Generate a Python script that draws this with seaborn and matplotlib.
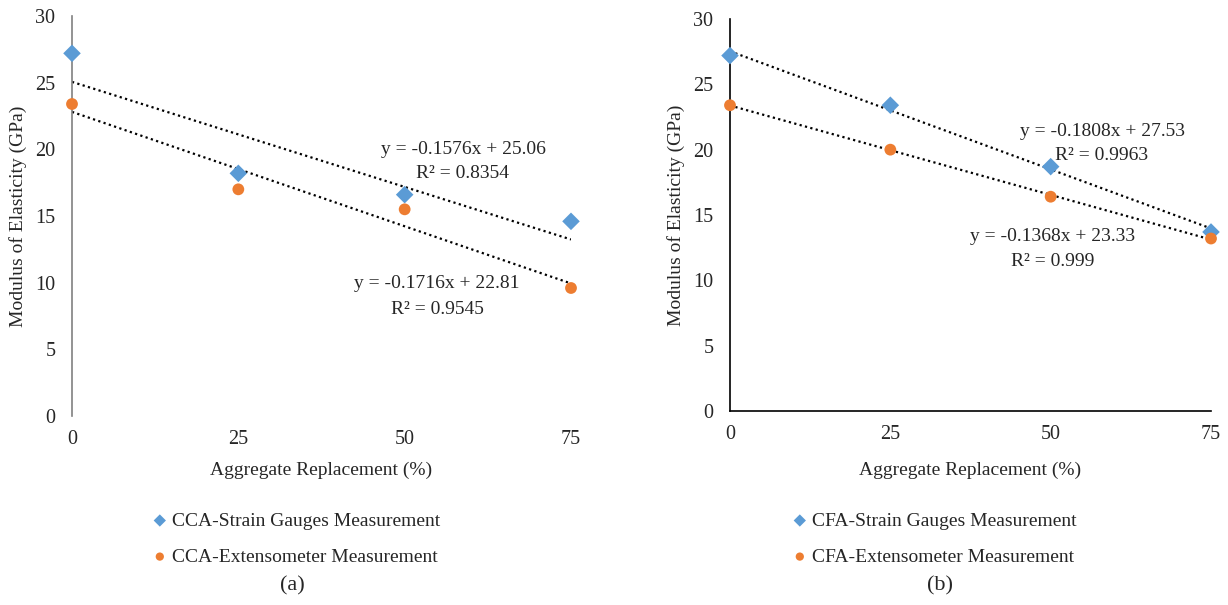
import matplotlib
matplotlib.use("Agg")
import matplotlib.pyplot as plt
import seaborn as sns
import pandas as pd

# ---- data ----
replacement = [0, 25, 50, 75]

cca_strain = [27.2, 18.2, 16.6, 14.6]
cca_ext    = [23.4, 17.0, 15.5, 9.6]
cfa_strain = [27.2, 23.4, 18.7, 13.7]
cfa_ext    = [23.4, 20.0, 16.4, 13.2]

cca_labels = ["CCA-Strain Gauges Measurement", "CCA-Extensometer Measurement"]
cfa_labels = ["CFA-Strain Gauges Measurement", "CFA-Extensometer Measurement"]

cca_eq = [("y = -0.1576x + 25.06", "R² = 0.8354"), ("y = -0.1716x + 22.81", "R² = 0.9545")]
cfa_eq = [("y = -0.1808x + 27.53", "R² = 0.9963"), ("y = -0.1368x + 23.33", "R² = 0.999")]

y_ticks = [0, 5, 10, 15, 20, 25, 30]
x_ticks = [0, 25, 50, 75]

BLUE = "#5B9BD5"
ORANGE = "#ED7D31"

sns.set_theme(style="white")
plt.rcParams["font.family"] = ["Liberation Serif", "DejaVu Serif"]

W, H = 1228, 605
fig = plt.figure(figsize=(W / 100, H / 100), dpi=100)


def px_axes(x0, y0, x1, y1):
    return fig.add_axes([x0 / W, 1 - y1 / H, (x1 - x0) / W, (y1 - y0) / H])


def draw_panel(ax, strain, ext, labels, eqs, eq_pos, spine_color, show_bottom, xlabelpad):
    df = pd.DataFrame({"x": replacement, "strain": strain, "ext": ext})
    for col, color, marker, size, lab in [("strain", BLUE, "D", 80, labels[0]),
                                          ("ext", ORANGE, "o", 72, labels[1])]:
        sns.regplot(data=df, x="x", y=col, ax=ax, scatter=False, ci=None, truncate=True,
                    line_kws=dict(color="black", linestyle=(0, (1, 1.5)), linewidth=1.6))
        sns.scatterplot(data=df, x="x", y=col, ax=ax, color=color, marker=marker, s=size,
                        edgecolor="none", label=lab, clip_on=False, zorder=3)
    ax.set_xlim(0, 75)
    ax.set_ylim(0, 30)
    ax.set_xticks(x_ticks)
    ax.set_yticks(y_ticks)
    ax.tick_params(axis="both", length=0, labelsize=14.5)
    ax.tick_params(axis="y", pad=12)
    ax.tick_params(axis="x", pad=10)
    ax.set_xlabel("Aggregate Replacement (%)", fontsize=14, labelpad=xlabelpad)
    ax.set_ylabel("Modulus of Elasticity (GPa)", fontsize=14, labelpad=6)
    for s in ["top", "right"]:
        ax.spines[s].set_visible(False)
    ax.spines["left"].set_color(spine_color)
    ax.spines["left"].set_linewidth(1.2)
    ax.spines["bottom"].set_visible(show_bottom)
    ax.spines["bottom"].set_color(spine_color)
    ax.spines["bottom"].set_linewidth(1.2)
    ax.grid(False)
    for (eq, r2), (xp, yp) in zip(eqs, eq_pos):
        fig.text(xp / W, 1 - yp / H, eq, ha="center", va="center", fontsize=14)
        fig.text(xp / W, 1 - (yp + 25) / H, r2, ha="center", va="center", fontsize=14)
    ax.get_legend().remove()
    return ax.get_legend_handles_labels()


ax1 = px_axes(72, 16, 571, 416)
h1, l1 = draw_panel(ax1, cca_strain, cca_ext, cca_labels, cca_eq,
                    [(463, 149), (437, 284)], "#808080", False, 9)

ax2 = px_axes(730, 19, 1211, 411)
h2, l2 = draw_panel(ax2, cfa_strain, cfa_ext, cfa_labels, cfa_eq,
                    [(1102, 131), (1053, 237)], "black", True, 13)

for h, l, x0, tag, tx in [(h1, l1, 153, "(a)", 292), (h2, l2, 793, "(b)", 940)]:
    fig.legend(h, l, loc="upper left", bbox_to_anchor=(x0 / W, 1 - 512 / H),
               frameon=False, fontsize=14, handlelength=0.7, handletextpad=0.3,
               labelspacing=0.95, borderpad=0, borderaxespad=0, markerscale=0.7)
    fig.text(tx / W, 1 - 586 / H, tag, ha="center", va="center", fontsize=16)

fig.savefig("out.png", dpi=100)
